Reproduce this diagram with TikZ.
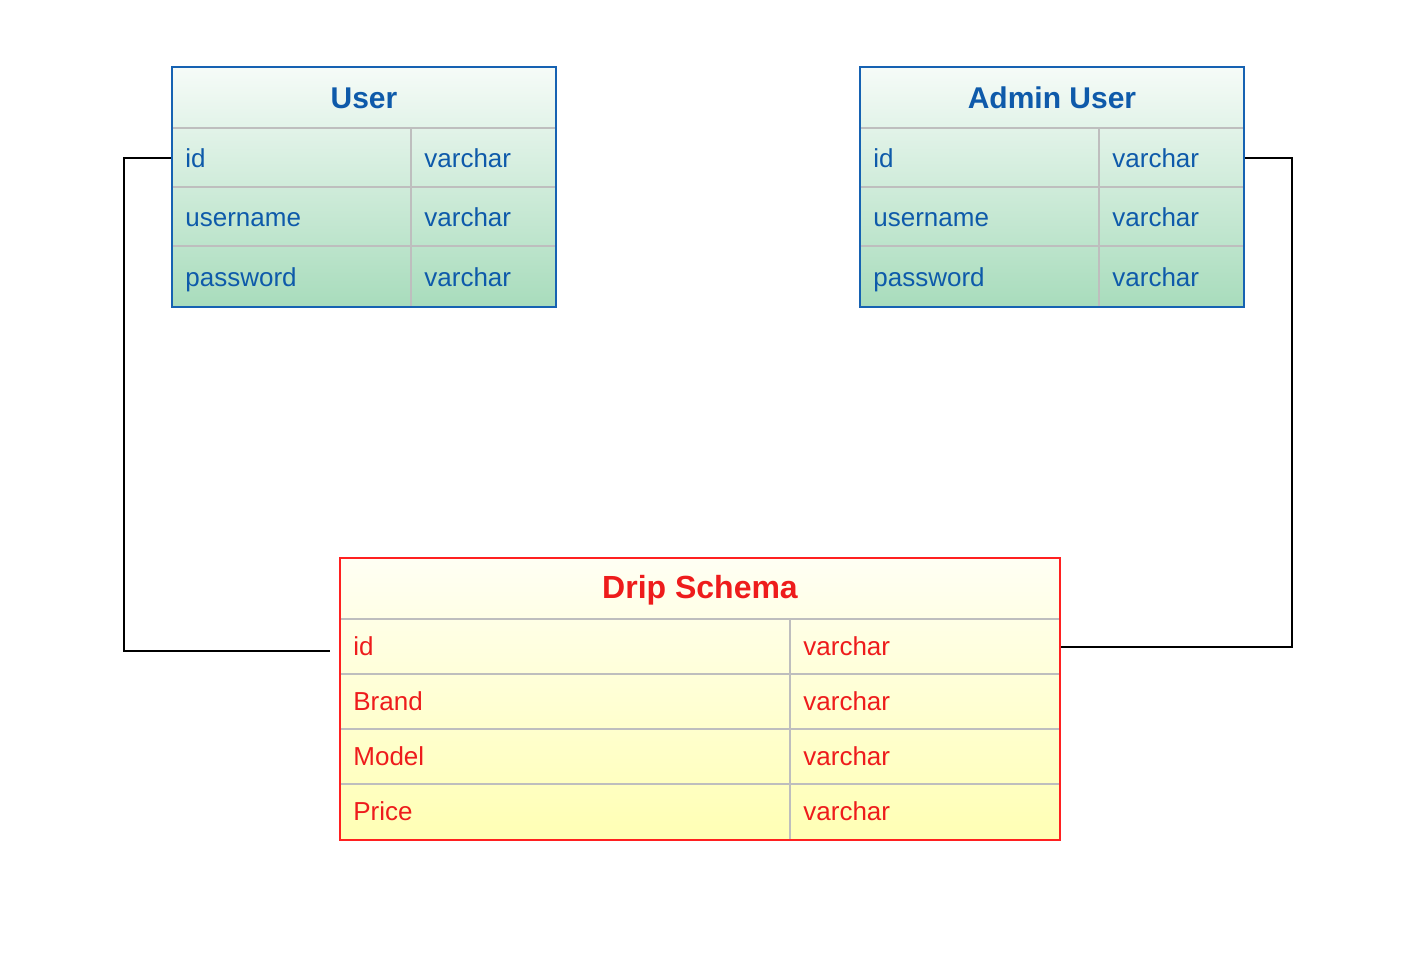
\documentclass[tikz,border=0pt]{standalone}
\usepackage{fontspec}
\setmainfont{Liberation Sans}
\usepackage{tikz}
\usetikzlibrary{calc}
\usetikzlibrary{positioning}

\definecolor{userblue}{RGB}{22,98,178}
\definecolor{usertext}{RGB}{14,90,170}
\definecolor{dripred}{RGB}{255,32,32}
\definecolor{driptext}{RGB}{238,28,28}
\definecolor{gridgrey}{RGB}{190,190,190}
\definecolor{greentop}{RGB}{246,251,248}
\definecolor{greenmid}{RGB}{180,225,197}
\definecolor{greenbot}{RGB}{168,220,188}
\definecolor{yellowtop}{RGB}{255,255,244}
\definecolor{yellowmid}{RGB}{255,255,196}
\definecolor{yellowbot}{RGB}{255,255,180}

\tikzset{
  usertab/.style={draw=userblue, line width=1pt, top color=greentop, middle color=greenmid, bottom color=greenbot, minimum width=192pt, minimum height=120pt, inner sep=0pt},
  driptab/.style={draw=dripred, line width=1pt, top color=yellowtop, middle color=yellowmid, bottom color=yellowbot, minimum width=360pt, minimum height=141pt, inner sep=0pt},
  gridline/.style={draw=gridgrey, line width=1pt},
  usertitle/.style={text=usertext, font=\fontsize{15}{18}\selectfont\bfseries, inner sep=0pt},
  dripttl/.style={text=driptext, font=\fontsize{16}{19}\selectfont\bfseries, inner sep=0pt},
  userfield/.style={text=usertext, font=\fontsize{13}{15}\selectfont, anchor=base west, inner sep=0pt},
  dripfield/.style={text=driptext, font=\fontsize{13}{15}\selectfont, anchor=base west, inner sep=0pt},
  link/.style={draw=black, line width=1pt}
}

\begin{document}
\begin{tikzpicture}[x=0.5pt,y=0.5pt,yscale=-1,xscale=1]
\useasboundingbox (0,0) rectangle (1416,958);

%Shape: Table [User]
\node [usertab] (user) at (364,187) {};
\draw [gridline] (173,128) -- (555,128) (173,187) -- (555,187) (173,246) -- (555,246) (411,128) -- (411,306) ;
\node [usertitle] (usertitle) at (364,98) {User};
\node [userfield] (u-id) at (185,167) {id};
\node [userfield] (u-idt) at (424,167) {varchar};
\node [userfield] (u-name) at (185,226) {username};
\node [userfield] (u-namet) at (424,226) {varchar};
\node [userfield] (u-pass) at (185,286) {password};
\node [userfield] (u-passt) at (424,286) {varchar};

%Shape: Table [Admin User]
\node [usertab] (admin) at (1052,187) {};
\draw [gridline] (861,128) -- (1243,128) (861,187) -- (1243,187) (861,246) -- (1243,246) (1099,128) -- (1099,306) ;
\node [usertitle] (admintitle) at (1052,98) {Admin User};
\node [userfield] (a-id) at (873,167) {id};
\node [userfield] (a-idt) at (1112,167) {varchar};
\node [userfield] (a-name) at (873,226) {username};
\node [userfield] (a-namet) at (1112,226) {varchar};
\node [userfield] (a-pass) at (873,286) {password};
\node [userfield] (a-passt) at (1112,286) {varchar};

%Shape: Table [Drip Schema]
\node [driptab] (drip) at (700,699) {};
\draw [gridline] (341,619) -- (1059,619) (341,674) -- (1059,674) (341,729) -- (1059,729) (341,784) -- (1059,784) (790,619) -- (790,839) ;
\node [dripttl] (driptitle) at (700,590) {Drip Schema};
\node [dripfield] (d-id) at (353,655) {id};
\node [dripfield] (d-idt) at (803,655) {varchar};
\node [dripfield] (d-brand) at (353,710) {Brand};
\node [dripfield] (d-brandt) at (803,710) {varchar};
\node [dripfield] (d-model) at (353,765) {Model};
\node [dripfield] (d-modelt) at (803,765) {varchar};
\node [dripfield] (d-price) at (353,820) {Price};
\node [dripfield] (d-pricet) at (803,820) {varchar};

%Connectors
\draw [link] (user.west |- 0,158) -| (124,651) -- ([xshift=-4.5pt]drip.west |- 0,651) ;
\draw [link] (admin.east |- 0,158) -| (1292,647) -- (drip.east |- 0,647) ;

\end{tikzpicture}
\end{document}
